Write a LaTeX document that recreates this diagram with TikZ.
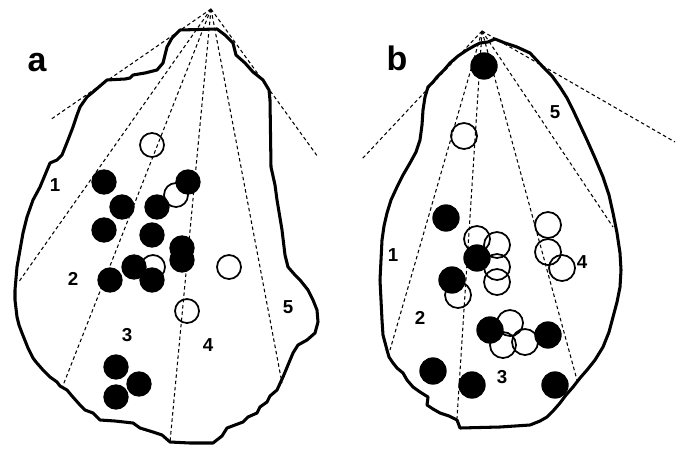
\documentclass[tikz,border=0pt]{standalone}
\usepackage{fontspec}
\setmainfont{Liberation Sans}
\usepackage{tikz}
\usetikzlibrary{positioning}

\begin{document}
\begin{tikzpicture}[
  x=0.03cm,y=-0.03cm,
  outline/.style={draw=black,line width=2.6pt,line join=round},
  ray/.style={draw=black,line width=0.9pt,dash pattern=on 3pt off 2.4pt},
  fulldot/.style={circle,fill=black,inner sep=0pt,minimum size=#1},
  opendot/.style={circle,draw=black,line width=1.5pt,inner sep=0pt,minimum size=#1},
  panel/.style={font=\fontsize{29}{29}\selectfont\bfseries},
  zone/.style={font=\fontsize{16}{16}\selectfont\bfseries}
]
\useasboundingbox (0,0) rectangle (681,448);

% panel a
\node[panel] (lblA) at (37,63) {a};
\coordinate (apexA) at (211,9);
\draw[outline] (180,30) -- (217,29) -- (225,35) -- (233,43) -- (236,55) -- (245,63)
  -- (253,72) -- (263,80) -- (269,90) -- (270,100) -- (271,167) -- (275,185)
  -- (277,200) -- (282,230) -- (285,255) -- (288,267) -- (295,275) -- (300,280)
  -- (308,290) -- (313,300) -- (317,310) -- (318,322) -- (315,333) -- (307,340)
  -- (298,345) -- (293,353) -- (288,365) -- (283,377) -- (277,390) -- (270,396)
  -- (267,402) -- (260,407) -- (257,413) -- (248,417) -- (243,422) -- (235,425)
  -- (227,428) -- (222,436) -- (213,443) -- (190,443) -- (170,442) -- (162,435)
  -- (153,432) -- (140,428) -- (133,423) -- (115,421) -- (100,420) -- (93,413)
  -- (85,410) -- (80,405) -- (72,396) -- (67,390) -- (60,386) -- (57,382)
  -- (50,377) -- (43,370) -- (36,362) -- (33,358) -- (28,348) -- (22,333)
  -- (19,325) -- (17,317) -- (15,300) -- (15,290) -- (17,267) -- (20,250)
  -- (23,233) -- (27,217) -- (33,200) -- (40,187) -- (45,175) -- (50,163)
  -- (57,160) -- (62,155) -- (68,140) -- (73,127) -- (77,115) -- (80,107)
  -- (87,97) -- (93,92) -- (100,86) -- (107,80) -- (125,79) -- (130,78)
  -- (133,75) -- (145,73) -- (157,70) -- (163,63) -- (165,55) -- (167,47)
  -- (172,38) -- cycle;
\foreach \x/\y [count=\i] in {50/120,18/283,62/388,170/442,282/383,318/157}{
  \coordinate (endA\i) at (\x,\y);
  \draw[ray] (apexA) -- (endA\i);
}
\foreach \x/\y [count=\i] in {152/145,176/195,153/267,229/267,187/311}
  \node[opendot=0.72cm] (openA\i) at (\x,\y) {};
\foreach \x/\y [count=\i] in {104/182,122/207,157/207,188/182,104/230,152/235,
    182/248,182/260,134/267,110/280,152/280,116/367,139/384,116/397}
  \node[fulldot=0.76cm] (fullA\i) at (\x,\y) {};
\node[zone] (zA1) at (55,185) {1};
\node[zone] (zA2) at (73,279) {2};
\node[zone] (zA3) at (127,335) {3};
\node[zone] (zA4) at (208,345) {4};
\node[zone] (zA5) at (288,307) {5};

% panel b
\node[panel] (lblB) at (397,58) {b};
\coordinate (apexB) at (482,31);
\draw[outline] (495,39) -- (505,43) -- (517,47) -- (530,53) -- (543,67) -- (552,76)
  -- (560,87) -- (567,98) -- (573,110) -- (580,125) -- (587,140) -- (595,158)
  -- (603,177) -- (609,195) -- (613,213) -- (617,233) -- (620,253) -- (621,270)
  -- (620,287) -- (617,302) -- (613,317) -- (609,332) -- (603,347) -- (595,360)
  -- (587,370) -- (580,378) -- (573,387) -- (566,395) -- (560,403) -- (553,411)
  -- (547,417) -- (540,421) -- (530,425) -- (500,427) -- (460,428) -- (457,420)
  -- (449,416) -- (440,413) -- (433,409) -- (427,405) -- (428,397) -- (420,392)
  -- (413,387) -- (407,380) -- (403,373) -- (397,368) -- (393,363) -- (389,357)
  -- (387,350) -- (383,335) -- (382,320) -- (381,300) -- (380,280) -- (381,260)
  -- (382,240) -- (384,226) -- (387,213) -- (391,200) -- (397,187) -- (403,175)
  -- (410,163) -- (416,152) -- (420,140) -- (422,125) -- (423,110) -- (425,97)
  -- (428,87) -- (433,82) -- (437,77) -- (444,70) -- (450,63) -- (458,56)
  -- (467,50) -- (474,46) -- (480,43) -- (488,42) -- cycle;
\foreach \x/\y [count=\i] in {362/159,390/350,457/418,577/380,613/227,675/142}{
  \coordinate (endB\i) at (\x,\y);
  \draw[ray] (apexB) -- (endB\i);
}
\foreach \x/\y [count=\i] in {464/136,477/239,497/245,497/267,497/282,458/295,
    548/225,548/252,562/268,510/323,503/345,525/342}
  \node[opendot=0.78cm] (openB\i) at (\x,\y) {};
\foreach \x/\y [count=\i] in {484/66,446/218,477/258,452/280,490/330,548/335,
    433/371,472/385,555/385}
  \node[fulldot=0.82cm] (fullB\i) at (\x,\y) {};
\node[zone] (zB1) at (393,255) {1};
\node[zone] (zB2) at (420,318) {2};
\node[zone] (zB3) at (502,377) {3};
\node[zone] (zB4) at (582,262) {4};
\node[zone] (zB5) at (555,112) {5};
\end{tikzpicture}
\end{document}
